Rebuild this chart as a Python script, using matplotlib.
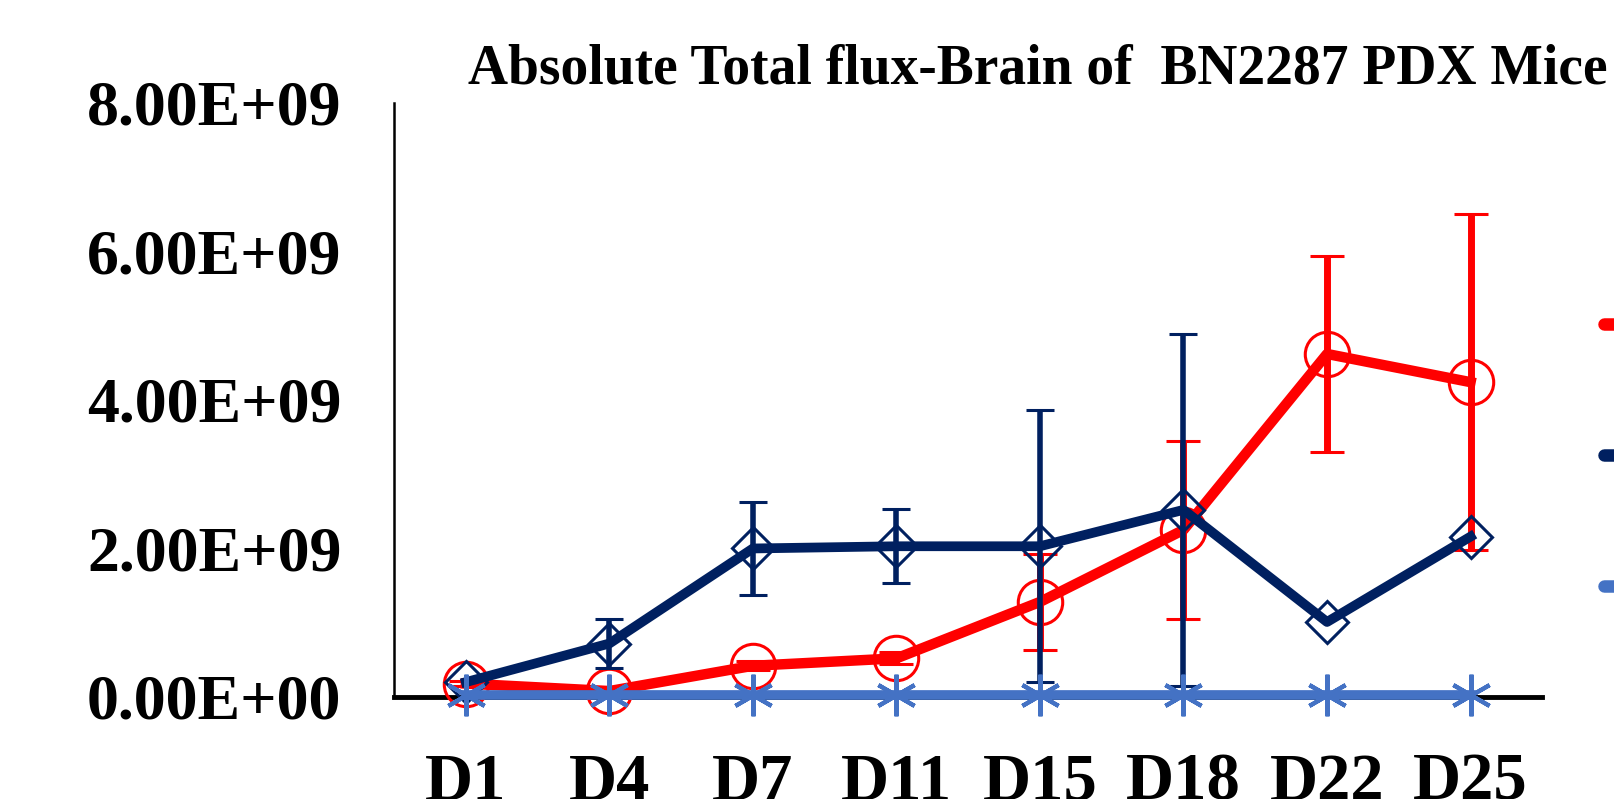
import numpy as np
import matplotlib
matplotlib.use("Agg")
import matplotlib.pyplot as plt

# ---------------------------------------------------------------------------
# Data
# ---------------------------------------------------------------------------
days = ["D1", "D4", "D7", "D11", "D15", "D18", "D22", "D25"]

red_mean = [0.18e9, 0.08e9, 0.42e9, 0.52e9, 1.28e9, 2.25e9, 4.62e9, 4.24e9]
red_err = [0.03e9, 0.03e9, 0.06e9, 0.08e9, 0.65e9, 1.20e9, 1.32e9, 2.26e9]

navy_mean = [0.20e9, 0.72e9, 2.00e9, 2.03e9, 2.03e9, 2.52e9, 1.01e9, 2.16e9]
navy_err = [np.nan, 0.33e9, 0.62e9, 0.50e9, 1.83e9, 2.37e9, np.nan, np.nan]

blue_mean = [0.03e9, 0.03e9, 0.03e9, 0.03e9, 0.03e9, 0.03e9, 0.03e9, 0.03e9]

series_names = ["Group 1", "Group 2", "Group 3"]
y_ticks = [0, 2e9, 4e9, 6e9, 8e9]

RED = "#FF0000"
NAVY = "#002060"
LBLUE = "#4472C4"

plt.rcParams["font.family"] = ["Liberation Serif", "DejaVu Serif"]
plt.rcParams["font.weight"] = "bold"

fig = plt.figure(figsize=(16.15, 7.99), dpi=100)
ax = fig.add_axes([0.244, 0.1277, 0.711, 0.7434])

x = np.arange(len(days))

h_red = ax.errorbar(x, red_mean, yerr=red_err, color=RED, lw=7.5,
                    marker="o", ms=32, mfc="none", mec=RED, mew=2.2,
                    ecolor=RED, elinewidth=5, capsize=12, capthick=5,
                    zorder=3, label=series_names[0])
h_navy = ax.errorbar(x, navy_mean, yerr=navy_err, color=NAVY, lw=7,
                     marker="D", ms=21, mfc="none", mec=NAVY, mew=2.2,
                     ecolor=NAVY, elinewidth=4, capsize=10, capthick=4,
                     zorder=4, label=series_names[1])
h_blue, = ax.plot(x, blue_mean, color=LBLUE, lw=7,
                  marker=(6, 2, 0), ms=30, mec=LBLUE, mew=3,
                  zorder=5, label=series_names[2])

for art in ax.get_children():
    if hasattr(art, "set_clip_on"):
        art.set_clip_on(False)
ax.patch.set_clip_on(True)

ax.set_xlim(-0.5, len(days) - 0.5)
ax.set_ylim(0, 8e9)
ax.set_xticks(x)
ax.set_xticklabels(days, fontsize=48, fontweight="bold")
ax.set_yticks(y_ticks)
ax.set_yticklabels(["{:.2E}".format(v) for v in y_ticks], fontsize=46, fontweight="bold")
ax.tick_params(axis="x", length=0, pad=40)
ax.tick_params(axis="y", length=0, pad=38)

for side in ("top", "right"):
    ax.spines[side].set_visible(False)
ax.spines["left"].set_linewidth(1.8)
ax.spines["bottom"].set_linewidth(3.5)
ax.spines["left"].set_zorder(2)
ax.spines["bottom"].set_zorder(2)

fig.text(0.290, 0.895, "Absolute Total flux-Brain of  BN2287 PDX Mice",
         fontsize=40, fontweight="bold", ha="left", va="baseline")

# legend sits mostly outside the canvas, only the line starts show
leg = fig.legend([h_red.lines[0], h_navy.lines[0], h_blue], series_names,
                 loc="upper left", bbox_to_anchor=(0.993, 0.620),
                 frameon=False, fontsize=40, borderpad=0, borderaxespad=0,
                 handlelength=2.5, labelspacing=1.42)
for line in leg.get_lines():
    line.set_linewidth(9)
    line.set_solid_capstyle("round")

fig.savefig("out.png", dpi=100)
